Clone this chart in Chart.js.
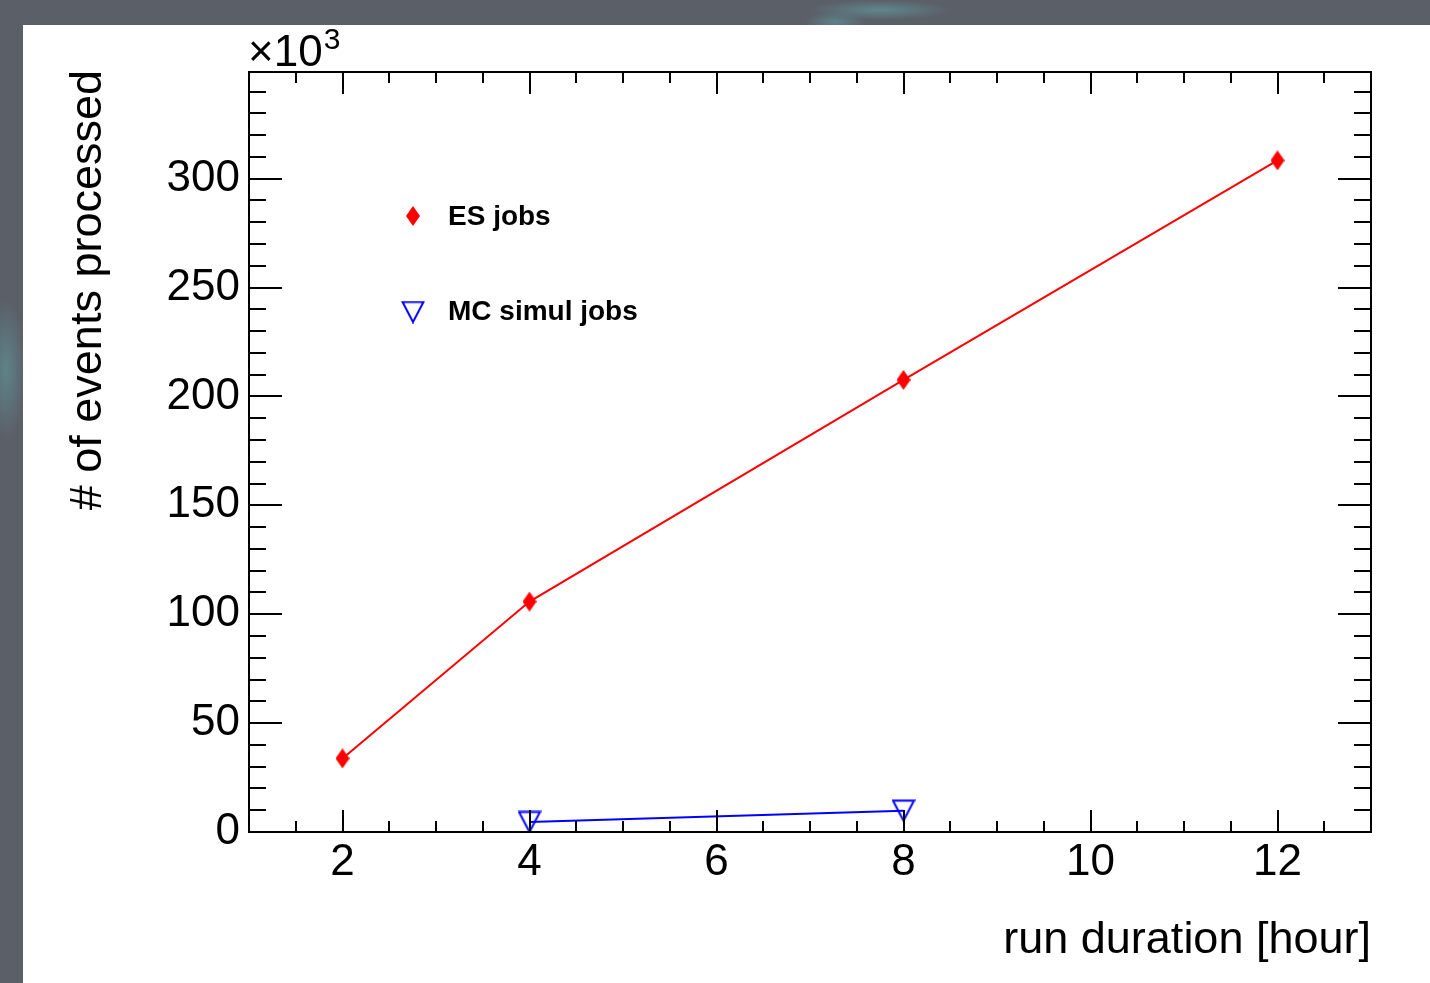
<!DOCTYPE html>
<html>
<head>
<meta charset="utf-8">
<script src="https://cdn.jsdelivr.net/npm/chart.js@4.4.1/dist/chart.umd.min.js"></script>
<style>
  html, body { margin: 0; padding: 0; }
  body {
    width: 1430px; height: 983px; overflow: hidden; position: relative;
    background:
      radial-gradient(ellipse 70px 10px at 880px 10px, rgba(95,140,145,0.9), rgba(95,140,145,0)),
      radial-gradient(ellipse 30px 10px at 835px 22px, rgba(95,140,145,0.8), rgba(95,140,145,0)),
      radial-gradient(ellipse 20px 70px at 6px 370px, rgba(95,140,145,0.8), rgba(95,140,145,0)),
      #5b5f68;
  }
  #panel { position: absolute; left: 23px; top: 25px; width: 1407px; height: 958px; background: #fff; }
  #c { position: absolute; left: 0; top: 0; }
</style>
</head>
<body>
<div id="panel"></div>
<canvas id="c" width="1430" height="983"></canvas>
<script>
// values in units of 10^3 events
const esHours = [2, 4, 8, 12];
const esEvents = [33.8, 105.8, 207.6, 308.4];
const mcHours = [4, 8];
const mcEvents = [4.6, 9.8];

const xTicks = [2, 4, 6, 8, 10, 12];
const yTicks = [0, 50, 100, 150, 200, 250, 300];

const FONT = "'Liberation Sans', Arial, Helvetica, sans-serif";

// ROOT-like markers
function diamondMarker() {
    const c = document.createElement('canvas');
    c.width = 14; c.height = 20;
    const g = c.getContext('2d');
    g.fillStyle = '#ff0000';
    g.beginPath();
    g.moveTo(7, 0); g.lineTo(14, 10); g.lineTo(7, 20); g.lineTo(0, 10);
    g.closePath();
    g.fill();
    return c;
}
function triangleMarker() {
    const c = document.createElement('canvas');
    c.width = 24; c.height = 23;
    const g = c.getContext('2d');
    g.strokeStyle = '#0000ff';
    g.lineWidth = 2;
    g.beginPath();
    g.moveTo(1.5, 1.5); g.lineTo(22.5, 1.5); g.lineTo(12, 21.5);
    g.closePath();
    g.stroke();
    return c;
}
const esMarker = diamondMarker();
const mcMarker = triangleMarker();

// inward ticks, frame, titles, legend
const rootFrame = {
    id: 'rootFrame',
    afterDraw(chart) {
        const ctx = chart.ctx;
        const a = chart.chartArea;
        const xs = chart.scales.x, ys = chart.scales.y;
        ctx.save();
        ctx.strokeStyle = '#000';
        ctx.lineWidth = 2;
        ctx.strokeRect(a.left, a.top, a.right - a.left, a.bottom - a.top);

        ctx.beginPath();
        for (let v = 1.5; v <= 12.51; v += 0.5) {
            const px = Math.round(xs.getPixelForValue(v));
            const len = (v % 2 === 0) ? 22 : 11;
            ctx.moveTo(px, a.bottom); ctx.lineTo(px, a.bottom - len);
            ctx.moveTo(px, a.top); ctx.lineTo(px, a.top + len);
        }
        for (let v = 10; v <= 340; v += 10) {
            const py = Math.round(ys.getPixelForValue(v));
            const len = (v % 50 === 0) ? 33 : 17;
            ctx.moveTo(a.left, py); ctx.lineTo(a.left + len, py);
            ctx.moveTo(a.right, py); ctx.lineTo(a.right - len, py);
        }
        ctx.stroke();

        // axis titles
        ctx.fillStyle = '#000';
        ctx.font = '45px ' + FONT;
        ctx.textAlign = 'right';
        ctx.textBaseline = 'alphabetic';
        ctx.fillText('run duration [hour]', a.right, 953);

        ctx.save();
        ctx.translate(101, a.top - 2);
        ctx.rotate(-Math.PI / 2);
        ctx.textAlign = 'right';
        ctx.fillText('# of events processed', 0, 0);
        ctx.restore();

        // exponent
        ctx.textAlign = 'left';
        ctx.font = '44px ' + FONT;
        ctx.fillText('\u00d710', 248, 66);
        const w = ctx.measureText('\u00d710').width;
        ctx.font = '30px ' + FONT;
        ctx.fillText('3', 248 + w + 1, 49);

        // legend
        ctx.font = 'bold 28px ' + FONT;
        const items = chart.data.datasets;
        const rows = [{ y: 216, ty: 225 }, { y: 312, ty: 320 }];
        items.forEach((ds, i) => {
            const m = ds.pointStyle;
            ctx.drawImage(m, 413 - m.width / 2, rows[i].y - m.height / 2);
            ctx.fillText(ds.label, 448, rows[i].ty);
        });
        ctx.restore();
    }
};

new Chart(document.getElementById('c'), {
    type: 'line',
    data: {
        datasets: [
            {
                label: 'ES jobs',
                data: esHours.map((h, i) => ({ x: h, y: esEvents[i] })),
                borderColor: '#ff0000',
                borderWidth: 2,
                pointStyle: esMarker,
                pointRadius: 10,
                clip: false
            },
            {
                label: 'MC simul jobs',
                data: mcHours.map((h, i) => ({ x: h, y: mcEvents[i] })),
                borderColor: '#0000ff',
                borderWidth: 2,
                pointStyle: mcMarker,
                pointRadius: 12,
                clip: false
            }
        ]
    },
    options: {
        responsive: false,
        animation: false,
        events: [],
        layout: { padding: { top: 72, right: 59, left: 0, bottom: 0 } },
        elements: { line: { tension: 0, fill: false } },
        plugins: { legend: { display: false }, tooltip: { enabled: false } },
        scales: {
            x: {
                type: 'linear',
                min: 1, max: 13,
                grid: { display: false, drawTicks: false },
                border: { display: false },
                afterBuildTicks: s => { s.ticks = xTicks.map(v => ({ value: v })); },
                afterFit: s => { s.height = 151; },
                ticks: { color: '#000', font: { family: FONT, size: 44 }, padding: 4, maxRotation: 0, autoSkip: false }
            },
            y: {
                type: 'linear',
                min: 0, max: 349,
                grid: { display: false, drawTicks: false },
                border: { display: false },
                afterBuildTicks: s => { s.ticks = yTicks.map(v => ({ value: v })); },
                afterFit: s => { s.width = 249; },
                ticks: { color: '#000', font: { family: FONT, size: 44 }, padding: 9, autoSkip: false }
            }
        }
    },
    plugins: [rootFrame]
});
</script>
</body>
</html>
